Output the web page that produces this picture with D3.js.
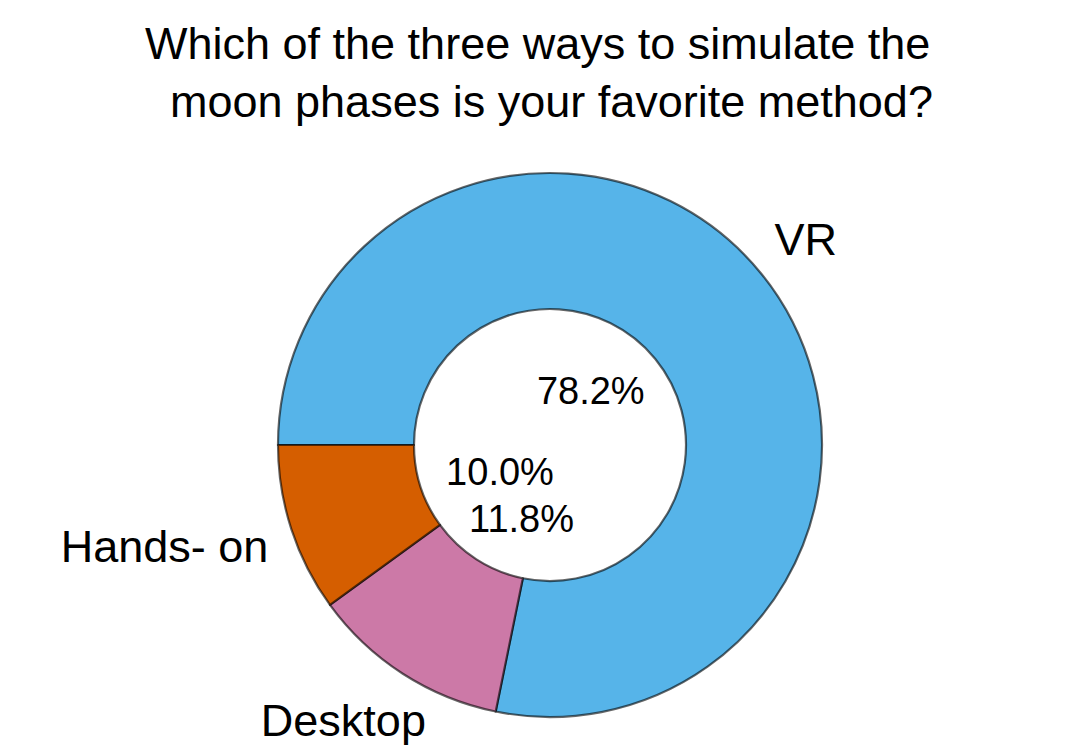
<!DOCTYPE html>
<html>
<head>
<meta charset="utf-8">
<script src="https://cdn.jsdelivr.net/npm/d3@7"></script>
<style>
  body { margin: 0; background: #fff; }
  text { font-family: "Liberation Sans", Arial, sans-serif; fill: #000; }
</style>
</head>
<body>
<div id="chart"></div>
<script>
// chart data
var categories = ["VR", "Desktop", "Hands- on"];
var shares = [78.2, 11.8, 10.0];
var sliceColors = ["#56B4E9", "#CC79A7", "#D55E00"];
var titleLines = ["Which of the three ways to simulate the", "moon phases is your favorite method?"];

(function() {
	var width = 1073;
	var height = 753;
	var svg = d3.select("#chart")
		.append("svg")
		.attr("width", width)
		.attr("height", height);

	// pie geometry
	var cx = 550, cy = 445;
	var outerR = 272;
	var innerR = 136;

	// title, two lines
	svg.append("text").attr("x", 145).attr("y", 59)
		.style("font-size", "45px").text(titleLines[0]);
	svg.append("text").attr("x", 170).attr("y", 117)
		.style("font-size", "45px").text(titleLines[1]);

	var data = categories.map(function(c, i) {
		return { name: c, value: shares[i], color: sliceColors[i] };
	});

	// start at 9 o'clock, go clockwise
	var pie = d3.pie()
		.sort(null)
		.value(function(d) { return d.value; })
		.startAngle(-Math.PI / 2)
		.endAngle(3 * Math.PI / 2);

	var arc = d3.arc()
		.innerRadius(innerR)
		.outerRadius(outerR);

	var g = svg.append("g")
		.attr("transform", "translate(" + cx + "," + cy + ")");

	var arcs = pie(data);

	g.selectAll("path")
		.data(arcs)
		.enter()
		.append("path")
		.attr("d", arc)
		.attr("fill", function(d) { return d.data.color; })
		.attr("stroke", "#000")
		.attr("stroke-opacity", 0.6)
		.attr("stroke-width", 2.2)
		.attr("stroke-linejoin", "round");

	function midAngle(d) {
		return (d.startAngle + d.endAngle) / 2; // d3 angle, 0 = 12 o'clock, clockwise
	}

	// percentage labels sit on a flattened ring inside the hole
	var pctRx = 52.6, pctRy = 87;
	g.selectAll("text.pct")
		.data(arcs)
		.enter()
		.append("text")
		.attr("class", "pct")
		.attr("text-anchor", "middle")
		.attr("x", function(d) { return pctRx * Math.sin(midAngle(d)); })
		.attr("y", function(d) { return -pctRy * Math.cos(midAngle(d)) + 0.358 * 38; })
		.style("font-size", "38px")
		.text(function(d) { return d.data.value.toFixed(1) + "%"; });

	// category labels at 1.2 x radius, nudged sideways like the original
	var labelR = outerR * 1.2;
	var nudge = { "VR": 3, "Desktop": -30, "Hands- on": -75 };
	g.selectAll("text.lab")
		.data(arcs)
		.enter()
		.append("text")
		.attr("class", "lab")
		.attr("text-anchor", "middle")
		.attr("x", function(d) { return labelR * Math.sin(midAngle(d)) + nudge[d.data.name]; })
		.attr("y", function(d) { return -labelR * Math.cos(midAngle(d)) + 0.358 * 45; })
		.style("font-size", "45px")
		.text(function(d) { return d.data.name; });
})();
</script>
</body>
</html>
